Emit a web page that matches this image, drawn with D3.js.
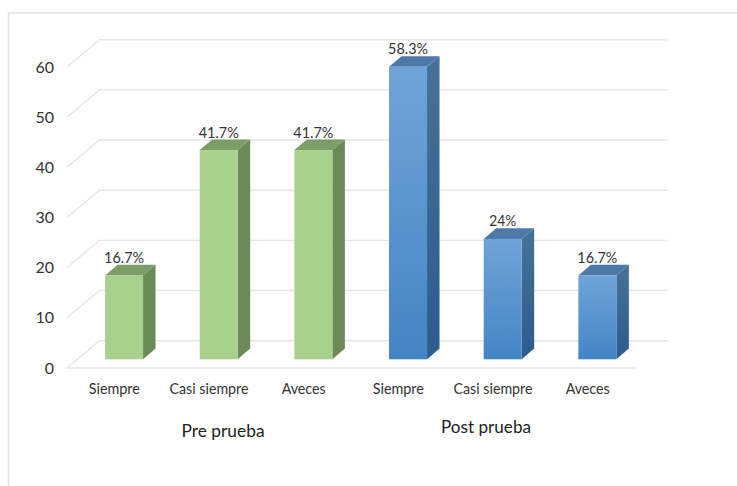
<!DOCTYPE html>
<html><head><meta charset="utf-8">
<script src="https://cdnjs.cloudflare.com/ajax/libs/d3/7.8.5/d3.min.js"></script>
<style>html,body{margin:0;padding:0;background:#fff}svg{display:block}text{font-family:Lato,"Open Sans",sans-serif;fill:#333}</style>
</head><body><svg id="c" width="737" height="486"></svg>
<script>
const categories = ["Siempre","Casi siempre","Aveces","Siempre","Casi siempre","Aveces"];
const groups = ["pre","pre","pre","post","post","post"];
const values = [16.7,41.7,41.7,58.3,24,16.7];
const valueLabels = ["16.7%","41.7%","41.7%","58.3%","24%","16.7%"];
const yTicks = [0,10,20,30,40,50,60];
const groupTitles = [{t:"Pre prueba",x:223,y:431,s:17.5,w:83},{t:"Post prueba",x:486,y:427,s:17.5,w:90}];

const svg = d3.select("#c");
const x = d3.scaleBand().domain(d3.range(6)).range([67,635]);
const y = d3.scaleLinear().domain([0,60]).range([368,67]);
const depth = {dx:32.5, dy:-27.3}, barOff = {dx:9.7, dy:-8.7}, barW = 38, barD = {dx:12.5, dy:-10.7};

const defs = svg.append("defs");
function grad(id,a,b){const g=defs.append("linearGradient").attr("id",id).attr("x1",0).attr("y1",0).attr("x2",0).attr("y2",1);
  g.append("stop").attr("offset",0).attr("stop-color",a);g.append("stop").attr("offset",1).attr("stop-color",b);}
grad("bf","#6fa4da","#4484c4");grad("bs","#477198","#2b5c8e");

svg.append("path").attr("d","M8.5,486V13H737").attr("fill","none").attr("stroke","#e4e4e8").attr("stroke-width",1.5);

const grid = svg.append("g").attr("fill","none").attr("stroke","#e6e6e6").attr("stroke-width",1.4);
yTicks.forEach(v=>{
  const fy=y(v);
  grid.append("path").attr("d",`M67,${fy}L${67+depth.dx},${fy+depth.dy}H${635+depth.dx}`);
});
grid.append("path").attr("d",`M67,${y(0)}H635`);

const yAxis = d3.axisLeft(y).tickValues(yTicks).tickSize(0).tickPadding(0);
const ya = svg.append("g").attr("transform","translate(54,0)").call(yAxis);
ya.select(".domain").remove();
ya.selectAll("text").style("font-size","16px").style("font-family","Lato").attr("fill","#333");

const labelW = {"Siempre":51,"Casi siempre":79,"Aveces":44};
const xAxis = d3.axisBottom(x).tickSize(0).tickPadding(0).tickFormat(i=>categories[i]);
const xa = svg.append("g").attr("transform","translate(0,383)").call(xAxis);
xa.select(".domain").remove();
xa.selectAll("text").style("font-size","15px").style("font-family","Lato").attr("fill","#333")
  .attr("textLength",(i)=>labelW[categories[i]]).attr("lengthAdjust","spacingAndGlyphs");

const bars = svg.append("g").selectAll("g").data(values).join("g");
const X0 = (d,i)=>x(i)+x.bandwidth()/2-barW/2+barOff.dx;
const Yb = y(0)+barOff.dy;
const Yt = d=>y(d)+barOff.dy;
bars.append("path").attr("fill",(d,i)=>groups[i]=="pre"?"#7c9e66":"#4e79a7")
  .attr("d",(d,i)=>{const a=X0(d,i),t=Yt(d);return `M${a},${t}l${barD.dx},${barD.dy}h${barW}l${-barD.dx},${-barD.dy}z`;});
bars.append("path").attr("fill",(d,i)=>groups[i]=="pre"?"#6b8a57":"url(#bs)")
  .attr("d",(d,i)=>{const a=X0(d,i)+barW,t=Yt(d);return `M${a},${t}l${barD.dx},${barD.dy}V${Yb+barD.dy}L${a},${Yb}z`;});
bars.append("rect").attr("x",X0).attr("y",Yt).attr("width",barW).attr("height",d=>Yb-Yt(d))
  .attr("fill",(d,i)=>groups[i]=="pre"?"#a9d18e":"url(#bf)");
bars.append("text").attr("x",(d,i)=>X0(d,i)+barW/2).attr("y",d=>Yt(d)-12.5).attr("text-anchor","middle")
  .style("font-size","15.5px")
  .attr("textLength",(d,i)=>valueLabels[i].length==3?27:40).attr("lengthAdjust","spacingAndGlyphs")
  .text((d,i)=>valueLabels[i]);

svg.append("g").selectAll("text").data(groupTitles).join("text")
  .attr("x",d=>d.x).attr("y",d=>d.y).attr("dy","0.35em").attr("text-anchor","middle")
  .attr("textLength",d=>d.w).attr("lengthAdjust","spacingAndGlyphs")
  .style("font-size",d=>d.s+"px").style("fill","#222").text(d=>d.t);
</script></body></html>
